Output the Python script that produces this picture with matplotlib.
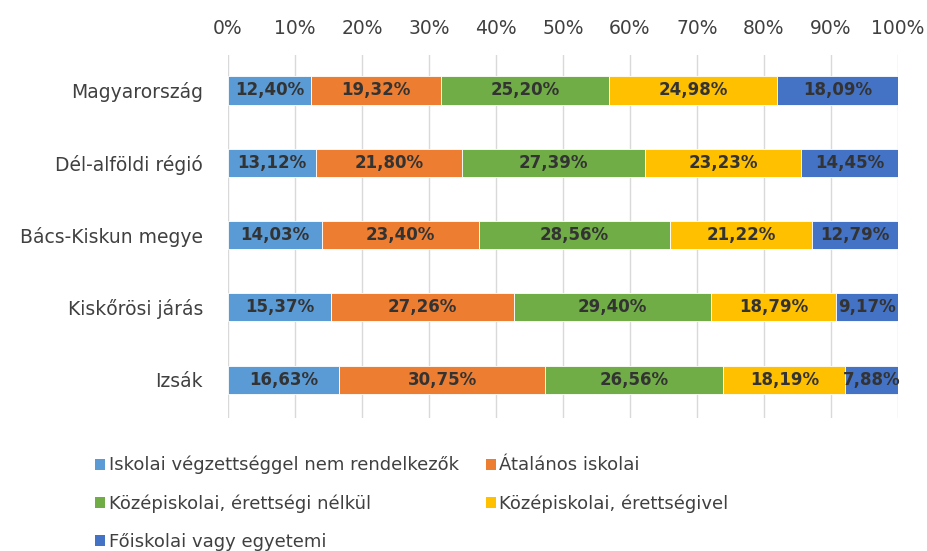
import matplotlib.pyplot as plt
from matplotlib.patches import Patch

plt.rcParams['font.family'] = ['DejaVu Sans']

regions = ['Magyarország', 'Dél-alföldi régió', 'Bács-Kiskun megye', 'Kiskőrösi járás', 'Izsák']
series = ['Iskolai végzettséggel nem rendelkezők', 'Átalános iskolai',
          'Középiskolai, érettségi nélkül', 'Középiskolai, érettségivel',
          'Főiskolai vagy egyetemi']
no_school = [12.40, 13.12, 14.03, 15.37, 16.63]
primary = [19.32, 21.80, 23.40, 27.26, 30.75]
secondary = [25.20, 27.39, 28.56, 29.40, 26.56]
graduation = [24.98, 23.23, 21.22, 18.79, 18.19]
higher = [18.09, 14.45, 12.79, 9.17, 7.88]
values = [no_school, primary, secondary, graduation, higher]
colors = ['#5B9BD5', '#ED7D31', '#70AD47', '#FFC000', '#4472C4']
ticks = [0, 10, 20, 30, 40, 50, 60, 70, 80, 90, 100]

fig = plt.figure(figsize=(9.27, 5.51), dpi=100)
ax = fig.add_axes([228/927, 1 - 418/551, 670/927, 363/551])

y = list(range(len(regions)))
left = [0.0] * len(regions)
for vals, col in zip(values, colors):
    bars = ax.barh(y, vals, left=left, height=0.39, color=col, edgecolor='white', linewidth=0.6, zorder=3)
    for b, v in zip(bars, vals):
        ax.text(b.get_x() + b.get_width() / 2, b.get_y() + b.get_height() / 2,
                f'{v:.2f}%'.replace('.', ','), ha='center', va='center',
                fontsize=12, fontweight='bold', color='#333333', zorder=4)
    left = [l + v for l, v in zip(left, vals)]

ax.set_xlim(0, 100)
ax.set_ylim(4.53, -0.49)
ax.set_yticks(y)
ax.set_yticklabels(regions, fontsize=13.5, color='#404040')
ax.set_xticks(ticks)
ax.set_xticklabels([f'{t}%' for t in ticks], fontsize=13.5, color='#404040')
ax.xaxis.tick_top()
ax.tick_params(axis='x', length=0, pad=12)
ax.tick_params(axis='y', length=0, pad=18)
ax.grid(axis='x', color='#d9d9d9', linewidth=1, zorder=0)
for s in ax.spines.values():
    s.set_visible(False)

handles = [Patch(facecolor=c, edgecolor='none') for c in colors]
order = [0, 2, 4, 1, 3]
fig.legend([handles[i] for i in order], [series[i] for i in order],
           loc='upper left', bbox_to_anchor=(95/927, 1 - 456/551), ncol=2,
           frameon=False, fontsize=13, handlelength=0.55, handleheight=0.55,
           handletextpad=0.2, labelspacing=1.1, columnspacing=1.5,
           labelcolor='#404040', borderaxespad=0, borderpad=0)

fig.savefig('out.png', dpi=100)
